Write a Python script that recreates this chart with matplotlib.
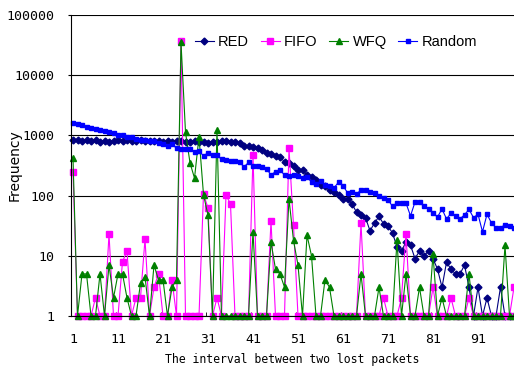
import numpy as np
import matplotlib
matplotlib.use("Agg")
import matplotlib.pyplot as plt
from matplotlib.ticker import FixedLocator, FixedFormatter, NullLocator

# frequency of each interval (1..99) for the four queue schemes
red = [850, 830, 820, 830, 810, 830, 790, 810, 780, 800,
       830, 820, 830, 810, 820, 830, 800, 820, 810, 800,
       790, 800, 790, 810, 800, 790, 790, 800, 770, 770,
       760, 770, 790, 810, 800, 790, 780, 760, 665, 660,
       650, 610, 580, 510, 495, 460, 440, 365, 350, 315,
       268, 265, 220, 200, 185, 150, 147, 124, 113, 102,
       88, 88, 73, 53, 47, 43, 26, 35, 45, 34,
       31, 24, 14, 12, 17, 15, 9, 12, 10, 12,
       9, 6, 3, 7.8, 6, 5, 5, 7, 3, 1,
       3, 1, 2, 1, 1, 3, 1, 1, 1]

fifo = [250, 1, 1, 1, 1, 2, 1, 1, 23, 1,
        1, 8, 12, 1, 2, 2, 19, 1, 3, 5,
        1, 1, 4, 1, 37000, 1, 1, 1, 1, 107,
        62, 1, 2, 1, 101, 73, 1, 1, 1, 1,
        475, 1, 1, 1, 38, 1, 1, 1, 610, 32,
        1, 1, 1, 1, 1, 1, 1, 1, 1, 1,
        1, 1, 1, 1, 35, 1, 1, 1, 1, 2,
        1, 1, 1, 2, 23, 1, 1, 1, 1, 1,
        3, 1, 1, 1, 2, 1, 1, 1, 2, 1,
        1, 1, 1, 1, 1, 1, 1, 1, 3]

wfq = [425, 1, 5, 5, 1, 1, 5, 1, 7, 2,
       5, 5, 2, 1, 1, 3.5, 4.5, 1, 7, 4,
       4, 1, 3, 4, 35000, 1130, 350, 195, 950, 104,
       47, 1, 1230, 1, 1, 1, 1, 1, 1, 1,
       25, 1, 1, 1, 17, 6, 5, 3, 88, 18,
       7, 1, 22, 10, 1, 1, 4, 3, 1, 1,
       1, 1, 1, 1, 5, 1, 1, 1, 3, 1,
       1, 1, 18, 1, 5, 1, 1, 3, 1, 1,
       10.6, 1, 2, 1, 1, 1, 1, 1, 5, 1,
       1, 1, 1, 1, 1, 1, 15, 1, 1]

rand = [1630, 1520, 1470, 1390, 1340, 1260, 1230, 1170, 1140, 1080,
        1030, 1000, 950, 930, 860, 840, 840, 810, 800, 760,
        720, 660, 720, 610, 585, 585, 600, 530, 550, 455,
        515, 480, 470, 400, 390, 370, 370, 360, 300, 355,
        315, 310, 300, 280, 220, 250, 270, 218, 210, 218,
        210, 193, 200, 170, 155, 173, 149, 143, 134, 167,
        145, 112, 116, 108, 122, 126, 116, 111, 99, 92,
        86, 66, 76, 74, 75, 46, 78, 78, 66, 60,
        51, 44, 60, 41, 51, 46, 41, 48, 59, 43,
        49, 25, 49, 35, 29, 29, 33, 31, 29]

x_labels = ["1", "11", "21", "31", "41", "51", "61", "71", "81", "91"]
y_labels = ["1", "10", "100", "1000", "10000", "100000"]

x = np.arange(1, len(red) + 1)

W, H = 514, 367
fig = plt.figure(figsize=(W / 100, H / 100), dpi=100)
# plot area runs past the right edge of the image, like the cropped original
ax = fig.add_axes([70.75 / W, 51 / H, 450 / W, 301 / H])

style = dict(lw=0.8, clip_on=False)
ax.plot(x, red, color="#000080", marker="D", ms=3.5, label="RED", **style)
ax.plot(x, fifo, color="#FF00FF", marker="s", ms=4.5, label="FIFO", **style)
ax.plot(x, wfq, color="#008000", marker="^", ms=5, label="WFQ", **style)
ax.plot(x, rand, color="#0000FF", marker="s", ms=2.2, label="Random", **style)

ax.set_yscale("log")
ax.set_ylim(1, 100000)
ax.set_xlim(0.5, 100.5)

yt = [10 ** k for k in range(6)]
ax.yaxis.set_major_locator(FixedLocator(yt))
ax.yaxis.set_major_formatter(FixedFormatter(y_labels))
ax.yaxis.set_minor_locator(NullLocator())
ax.set_xticks([int(s) for s in x_labels])
ax.set_xticklabels(x_labels)
ax.set_xticks(np.arange(10.5, 100, 10), minor=True)

for lab in ax.get_xticklabels() + ax.get_yticklabels():
    lab.set_fontfamily("DejaVu Sans Mono")
    lab.set_fontsize(9.5)

ax.tick_params(axis="x", which="major", length=0, pad=12)
ax.tick_params(axis="x", which="minor", length=3, direction="in")
ax.tick_params(axis="y", which="major", length=2, pad=10)

ax.grid(True, axis="y", which="major", color="black", lw=0.8)
ax.set_axisbelow(True)
ax.spines["top"].set_visible(False)
ax.spines["right"].set_visible(False)

fig.text(292 / W, 1 - 360 / H, "The interval between two lost packets",
         family="DejaVu Sans Mono", size=8.3, ha="center", va="center")
fig.text(15 / W, 1 - 165 / H, "Frequency", family="DejaVu Sans", size=10,
         rotation=90, ha="center", va="center")

fig.legend(loc="center", bbox_to_anchor=(336 / W, 1 - 42 / H), ncol=4, frameon=False,
           prop={"family": "Liberation Sans", "size": 10.5}, handlelength=1.3,
           handletextpad=0.3, columnspacing=0.8)

fig.savefig("out.png", dpi=100)
